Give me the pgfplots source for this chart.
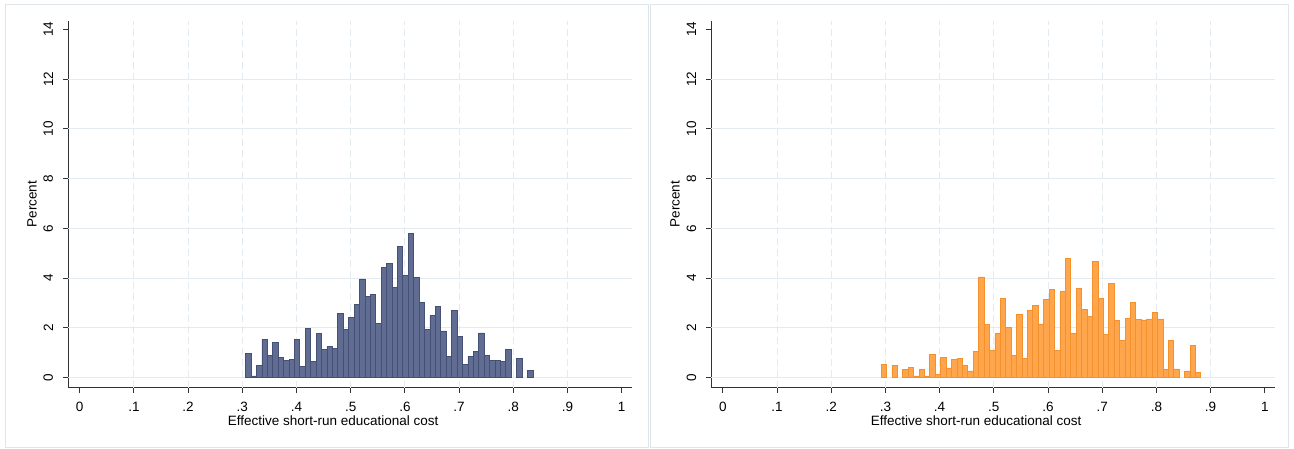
\documentclass[border=0pt]{standalone}
\usepackage{graphicx}
\usepackage{fontspec}
\setmainfont{Liberation Sans}
\usepackage{pgfplots}
\pgfplotsset{compat=1.18}
\definecolor{navyfill}{RGB}{96,108,146}
\definecolor{navyline}{RGB}{68,80,116}
\definecolor{orgfill}{RGB}{255,166,77}
\definecolor{orgline}{RGB}{245,145,45}
\definecolor{gridc}{RGB}{228,235,240}
\definecolor{borderc}{RGB}{222,230,235}
\definecolor{axisc}{RGB}{50,50,50}
\newcommand{\rl}[1]{\rotatebox{90}{#1}}
\pgfplotsset{histo/.style={
  scale only axis, width=563.4pt, height=367pt,
  xmin=-0.021, xmax=1.0185, ymin=-0.402, ymax=14.346,
  axis x line*=bottom, axis y line*=left,
  axis line style={draw=axisc, line width=0.9pt, -},
  tick align=outside, major tick length=5pt,
  tick style={draw=axisc, line width=0.9pt},
  xtick={0,0.1,0.2,0.3,0.4,0.5,0.6,0.7,0.8,0.9,1},
  xticklabels={0,.1,.2,.3,.4,.5,.6,.7,.8,.9,1},
  ytick={0,2,4,6,8,10,12,14},
  yticklabels={\rl{0},\rl{2},\rl{4},\rl{6},\rl{8},\rl{10},\rl{12},\rl{14}},
  ticklabel style={font=\fontsize{13.5}{16}\selectfont, text=black},
  xticklabel style={yshift=-6pt},
  yticklabel style={anchor=center, xshift=-15pt},
  extra x ticks={0.1,0.2,0.3,0.4,0.5,0.6,0.7,0.8,0.9},
  extra x tick labels={},
  extra x tick style={grid=major, major tick length=0pt, major grid style={draw=gridc, line width=0.9pt, dash pattern=on 7pt off 4pt}},
  extra y ticks={0,2,4,6,8,10,12},
  extra y tick labels={},
  extra y tick style={grid=major, major tick length=0pt, major grid style={draw=gridc, line width=0.9pt}},
  xlabel={Effective short-run educational cost},
  ylabel={Percent},
  label style={font=\fontsize{13.5}{16}\selectfont},
  xlabel style={at={(axis description cs:0.47,0)}, anchor=center, yshift=-33.3pt},
  ylabel style={at={(axis description cs:0,0.5)}, anchor=center, yshift=36.3pt},
  clip=false,
}}
\begin{document}
\begin{tikzpicture}
\useasboundingbox (0pt,0pt) rectangle (1294pt,448pt);
\draw[borderc, line width=1pt] (5.5pt,1pt) rectangle (648pt,443pt);
\draw[borderc, line width=1pt] (650.5pt,1pt) rectangle (1288.5pt,443pt);
\begin{axis}[histo, at={(68.3pt,60.3pt)}, anchor=south west]
\addplot[ybar, bar width=0.01, fill=navyfill, draw=navyline, line width=0.8pt] coordinates {
(0.3113,0.97)(0.3213,0.07)(0.3313,0.50)(0.3413,1.55)(0.3513,0.88)(0.3613,1.42)(0.3713,0.82)(0.3813,0.69)(0.3913,0.72)(0.4013,1.55)
(0.4113,0.47)(0.4213,1.99)(0.4313,0.64)(0.4413,1.77)(0.4513,1.12)(0.4613,1.24)(0.4713,1.16)(0.4813,2.59)(0.4913,1.93)(0.5013,2.42)
(0.5113,2.93)(0.5213,3.97)(0.5313,3.28)(0.5413,3.36)(0.5513,2.19)(0.5613,4.42)(0.5713,4.60)(0.5813,3.64)(0.5913,5.27)(0.6013,4.12)
(0.6113,5.81)(0.6213,4.04)(0.6313,3.03)(0.6413,1.95)(0.6513,2.50)(0.6613,2.88)(0.6713,1.88)(0.6813,0.86)(0.6913,2.70)(0.7013,1.65)
(0.7113,0.54)(0.7213,0.85)(0.7313,1.04)(0.7413,1.80)(0.7513,0.89)(0.7613,0.70)(0.7713,0.70)(0.7813,0.64)(0.7913,1.15)
(0.8113,0.78)(0.8313,0.30)
};
\end{axis}
\begin{axis}[histo, at={(711.4pt,60.3pt)}, anchor=south west]
\addplot[ybar, bar width=0.01, fill=orgfill, draw=orgline, line width=0.8pt] coordinates {
(0.2971,0.54)(0.3171,0.49)(0.3371,0.34)(0.3471,0.41)(0.3571,0.07)(0.3671,0.32)(0.3771,0.07)(0.3871,0.95)
(0.3971,0.14)(0.4071,0.82)(0.4171,0.39)(0.4271,0.73)(0.4371,0.77)(0.4471,0.49)(0.4571,0.27)(0.4671,1.05)(0.4771,4.05)(0.4871,2.14)
(0.4971,1.11)(0.5071,1.77)(0.5171,3.20)(0.5271,2.01)(0.5371,0.89)(0.5471,2.53)(0.5571,0.77)(0.5671,2.72)(0.5771,2.91)(0.5871,2.16)
(0.5971,3.15)(0.6071,3.53)(0.6171,1.11)(0.6271,3.45)(0.6371,4.80)(0.6471,1.78)(0.6571,3.58)(0.6671,2.73)(0.6771,2.45)(0.6871,4.68)
(0.6971,3.18)(0.7071,1.73)(0.7171,3.78)(0.7271,2.31)(0.7371,1.51)(0.7471,2.39)(0.7571,3.01)(0.7671,2.34)(0.7771,2.32)(0.7871,2.36)
(0.7971,2.64)(0.8071,2.36)(0.8171,0.32)(0.8271,1.49)(0.8371,0.35)(0.8571,0.27)(0.8671,1.31)(0.8771,0.22)
};
\end{axis}
\end{tikzpicture}
\end{document}
